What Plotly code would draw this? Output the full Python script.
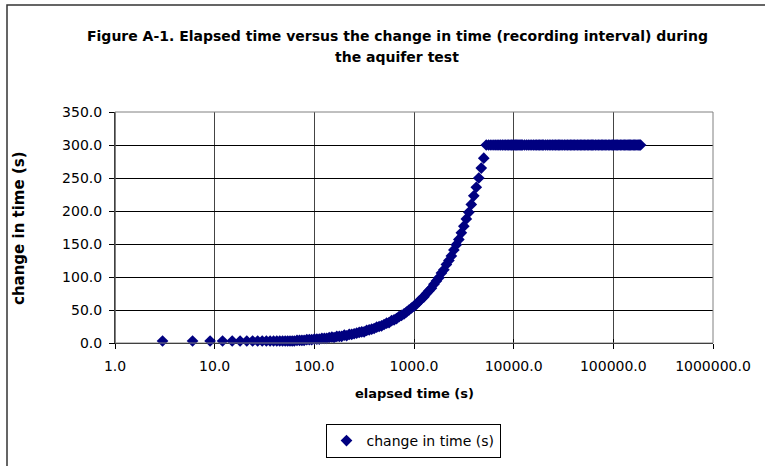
import plotly.graph_objects as go

# ---- data ----
early_elapsed = [3, 6, 9, 12, 15, 18, 21, 24, 27, 30, 33, 36, 39, 42, 45, 48, 51, 54, 57, 60, 63]
early_change = [3, 3, 3, 3, 3, 3, 3, 3, 3, 3, 3, 3, 3, 3, 3, 3, 3, 3, 3, 3, 3]

rise_elapsed = [67, 71, 75, 79, 84, 89, 94, 100, 106, 112, 119, 126, 133, 141, 150, 158, 168, 178,
                188, 200, 211, 224, 237, 251, 266, 282, 299, 316, 335, 355, 376, 398, 422, 447, 473,
                501, 531, 562, 596, 631, 668, 708, 750, 794, 841, 891, 944, 1000, 1059, 1122, 1189,
                1259, 1334, 1413, 1496, 1585, 1679, 1778, 1884, 1995, 2114, 2239, 2371, 2512, 2661,
                2818, 2985, 3162, 3350, 3548, 3758, 3981, 4217, 4467, 4732, 5012]
rise_change = [4, 4, 4, 4, 5, 5, 5, 6, 6, 6, 7, 7, 7, 8, 9, 8, 10, 10,
               10, 12, 11, 13, 13, 14, 15, 16, 17, 17, 19, 20, 21, 22, 24, 25, 26,
               28, 30, 31, 34, 35, 37, 40, 42, 44, 47, 50, 53, 56, 59, 63, 67,
               70, 75, 79, 83, 89, 94, 99, 106, 111, 119, 125, 132, 141, 149,
               157, 167, 177, 188, 198, 210, 223, 236, 250, 265, 280]

flat_elapsed = [5312, 5612, 5912, 6212, 6512, 6812, 7112, 7412, 7712, 8012, 8312, 8612, 8912, 9212,
                9512, 9812, 10112, 10412, 10712, 11012, 11312, 11612, 11912, 12212,
                12812, 13412, 14012, 14612, 15212, 15812, 16412, 17012, 17612, 18212, 18812, 19412, 20012,
                20912, 21812, 22712, 23612, 24512, 25412, 26312, 27212, 28112, 29012, 29912,
                31112, 32312, 33512, 34712, 35912, 37112, 38312, 39512, 40712,
                42212, 43712, 45212, 46712, 48212, 49712, 51212,
                53012, 54812, 56612, 58412, 60212, 62012, 63812,
                66212, 68612, 71012, 73412, 75812, 78212, 80612, 83012,
                86012, 89012, 92012, 95012, 98012, 101012, 104012, 107012, 110012,
                113912, 117812, 121712, 125612, 129512, 133412, 137312, 141212, 145112, 149012,
                153812, 158612, 163412, 168212, 173012, 177812, 182612, 187412]
flat_change = [300, 300, 300, 300, 300, 300, 300, 300, 300, 300, 300, 300, 300, 300,
               300, 300, 300, 300, 300, 300, 300, 300, 300, 300,
               300, 300, 300, 300, 300, 300, 300, 300, 300, 300, 300, 300, 300,
               300, 300, 300, 300, 300, 300, 300, 300, 300, 300, 300,
               300, 300, 300, 300, 300, 300, 300, 300, 300,
               300, 300, 300, 300, 300, 300, 300,
               300, 300, 300, 300, 300, 300, 300,
               300, 300, 300, 300, 300, 300, 300, 300,
               300, 300, 300, 300, 300, 300, 300, 300, 300,
               300, 300, 300, 300, 300, 300, 300, 300, 300, 300,
               300, 300, 300, 300, 300, 300, 300, 300]

elapsed = early_elapsed + rise_elapsed + flat_elapsed
change = early_change + rise_change + flat_change

x_tickvals = [1, 10, 100, 1000, 10000, 100000, 1000000]
x_ticktext = ["1.0", "10.0", "100.0", "1000.0", "10000.0", "100000.0", "1000000.0"]
y_tickvals = [0, 50, 100, 150, 200, 250, 300, 350]
y_ticktext = ["0.0", "50.0", "100.0", "150.0", "200.0", "250.0", "300.0", "350.0"]

title_line1 = "Figure A-1. Elapsed time versus the change in time (recording interval) during"
title_line2 = "the aquifer test"
series_name = "change in time (s)"

FONT = "DejaVu Sans, Liberation Sans, Arial, sans-serif"

# ---- figure ----
W, H = 765, 466
L, R, T, B = 115, 52, 112, 123
PW, PH = W - L - R, H - T - B


def px(xp):
    return (xp - L) / PW


def py(yp):
    return (H - B - yp) / PH


fig = go.Figure()
fig.add_trace(go.Scatter(
    x=elapsed, y=change, mode="markers", name=series_name,
    marker=dict(symbol="diamond", size=9, color="#000080", line=dict(width=0)),
    cliponaxis=False,
))
# invisible trace to carry the overlaid axes (inner half of the crossing ticks)
fig.add_trace(go.Scatter(x=[1], y=[0], xaxis="x2", yaxis="y2", mode="markers",
                         marker=dict(opacity=0), showlegend=False, hoverinfo="skip"))

fig.update_layout(
    width=W, height=H,
    margin=dict(l=L, r=R, t=T, b=B, autoexpand=False),
    paper_bgcolor="white", plot_bgcolor="white",
    font=dict(family=FONT, size=14, color="black"),
    showlegend=True,
    legend=dict(
        orientation="h", xref="container", yref="container",
        x=413 / W, xanchor="center", y=1 - 424 / H, yanchor="top",
        bordercolor="black", borderwidth=1, bgcolor="white",
        font=dict(family=FONT, size=14, color="black"),
        itemwidth=30,
    ),
    xaxis=dict(
        type="log", range=[0, 6], tickvals=x_tickvals, ticktext=x_ticktext,
        showgrid=True, gridcolor="#444444", gridwidth=1,
        showline=True, linecolor="black", linewidth=1,
        ticks="outside", ticklen=5, tickcolor="black",
        ticklabelstandoff=5, zeroline=False, layer="below traces",
        tickfont=dict(size=14),
    ),
    yaxis=dict(
        range=[0, 350], tickvals=y_tickvals, ticktext=y_ticktext,
        showgrid=True, gridcolor="black", gridwidth=1,
        showline=True, linecolor="black", linewidth=1,
        ticks="outside", ticklen=5, tickcolor="black",
        ticklabelstandoff=4, zeroline=False, layer="below traces",
        tickfont=dict(size=14),
    ),
    xaxis2=dict(type="log", range=[0, 6], overlaying="x", tickvals=x_tickvals,
                showticklabels=False, showgrid=False, ticks="inside", ticklen=4,
                tickcolor="black", zeroline=False, showline=False, layer="below traces"),
    yaxis2=dict(range=[0, 350], overlaying="y", tickvals=y_tickvals,
                showticklabels=False, showgrid=False, ticks="inside", ticklen=4,
                tickcolor="black", zeroline=False, showline=False, layer="below traces"),
    shapes=[
        dict(type="rect", xref="paper", yref="paper", x0=0, x1=1, y0=0, y1=1,
             line=dict(color="#808080", width=1), fillcolor="rgba(0,0,0,0)", layer="above"),
        dict(type="line", xref="paper", yref="paper", x0=0, x1=0, y0=0, y1=1,
             line=dict(color="black", width=1), layer="below"),
        dict(type="rect", xref="paper", yref="paper", x0=px(7), x1=px(W + 20), y0=py(H + 20), y1=py(5),
             line=dict(color="#333333", width=1.5), fillcolor="rgba(0,0,0,0)", layer="above"),
    ],
    annotations=[
        dict(text="<b>" + title_line1 + "</b>", x=px(397), y=py(36), xref="paper", yref="paper",
             showarrow=False, xanchor="center", yanchor="middle", font=dict(family=FONT, size=14)),
        dict(text="<b>" + title_line2 + "</b>", x=px(397), y=py(57), xref="paper", yref="paper",
             showarrow=False, xanchor="center", yanchor="middle", font=dict(family=FONT, size=14)),
        dict(text="<b>elapsed time (s)</b>", x=px(414), y=py(393), xref="paper", yref="paper",
             showarrow=False, xanchor="center", yanchor="middle", font=dict(family=FONT, size=13)),
        dict(text="<b>change in time (s)</b>", x=px(19), y=py(228), xref="paper", yref="paper",
             showarrow=False, xanchor="center", yanchor="middle", textangle=-90,
             font=dict(family=FONT, size=15)),
    ],
)

fig.write_html("out.html", config={"displayModeBar": False},
               post_script="document.body.style.margin='0';")
